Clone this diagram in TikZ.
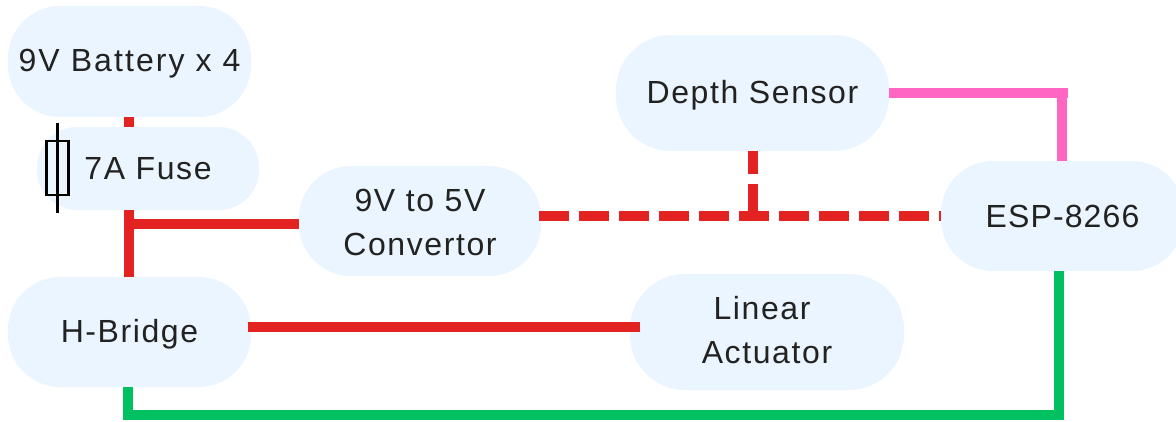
\documentclass[tikz,border=0pt]{standalone}
\usepackage{fontspec}
\setmainfont[LetterSpace=5]{Liberation Sans}
\definecolor{pillfill}{HTML}{EAF5FF}
\definecolor{inktext}{HTML}{222222}
\definecolor{wirered}{HTML}{E32222}
\definecolor{wiregreen}{HTML}{00C060}
\definecolor{wirepink}{HTML}{FF66C4}
\tikzset{
  pill/.style n args={3}{shape=rectangle,fill=pillfill,text=inktext,inner sep=0pt,align=center,
    minimum width=#1*0.75pt,minimum height=#2*0.75pt,rounded corners=#3*0.75pt,
    text height=15pt,text depth=0pt,
    font=\fontsize{24pt}{33pt}\selectfont},
  wire/.style={line width=7.5pt,line cap=butt,line join=miter},
  redwire/.style={wire,draw=wirered},
  reddash/.style={redwire,dash pattern=on 22.5pt off 7.5pt},
  greenwire/.style={wire,draw=wiregreen},
  pinkwire/.style={wire,draw=wirepink},
  fusebody/.style={draw=black,line width=1.9pt,inner sep=0pt,minimum width=16.2pt,minimum height=40.5pt},
  fuselead/.style={draw=black,line width=1.9pt}
}
\begin{document}
\begin{tikzpicture}[x=0.75pt,y=-0.75pt]
\useasboundingbox (0,0) rectangle (1176,421);
\node[pill={243}{111}{52}] (batt) at (129.5,61.5) {\addfontfeature{LetterSpace=6.5}9V Battery x 4};
\node[pill={222}{83}{40},text height=17pt] (fuse) at (148,168.5) {7A Fuse};
\node[pill={243}{110}{52}] (hb) at (129.5,332) {H-Bridge};
\node[pill={242}{110}{52},text height=51pt] (conv) at (420,221) {9V to 5V\\Convertor};
\node[pill={274}{116}{55},text height=46.5pt] (act) at (767,332) {Linear\kern7.5pt\\Actuator};
\node[pill={273}{116}{55}] (depth) at (752.5,93) {Depth Sensor};
\node[pill={243}{110}{52},text height=17pt] (esp) at (1062.5,216) {\addfontfeature{LetterSpace=3.5}ESP-8266};
% fuse symbol
\node[fusebody] (fusesym) at (57.5,168) {};
\coordinate (fusetop) at (57.5,123);
\coordinate (fusebot) at (57.5,213);
\draw[fuselead] (fusetop) -- (fusebot);
% wires
\coordinate (b1) at (129,117);
\coordinate (f1) at (129,127);
\coordinate (f2) at (129,210);
\coordinate (h1) at (129,277);
\coordinate (tee) at (129,224);
\draw[redwire] (b1) -- (f1);
\draw[redwire] (f2) -- (h1);
\draw[redwire] (tee) -- (tee -| conv.west);
\coordinate (hbtap) at (248,327);
\coordinate (acttap) at (640,327);
\draw[redwire] (hbtap) -- (acttap);
\coordinate (convtap) at (539.3,216);
\coordinate (esptap) at (941,216);
\draw[reddash] (convtap) -- (esptap);
\coordinate (dtap) at (753,214);
\draw[reddash] (dtap) -- (dtap |- depth.south);
\coordinate (hbdown) at (127.5,387);
\coordinate (gr1) at (127.5,415);
\coordinate (espdown) at (1059,271);
\draw[greenwire] (hbdown) -- (gr1) -- (gr1 -| espdown) -- (espdown);
\coordinate (dright) at (889,93);
\coordinate (pcorner) at (1068,93);
\coordinate (espup) at (1062,161);
\draw[pinkwire] (dright) -- (pcorner);
\draw[pinkwire] (espup |- pcorner) ++(0,-5) -- (espup);
\end{tikzpicture}
\end{document}
